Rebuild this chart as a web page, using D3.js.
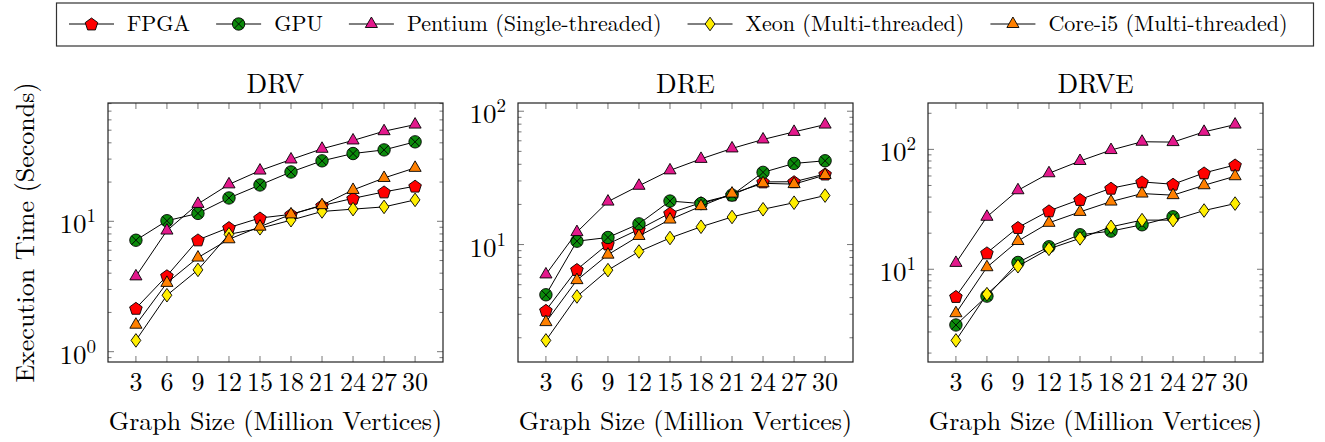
<!DOCTYPE html>
<html>
<head>
<meta charset="utf-8">
<script src="https://cdn.jsdelivr.net/npm/d3@7"></script>
</head>
<body style="margin:0;background:#fff">
<svg id="chart" width="1325" height="442"></svg>
<script>
const sizes = [3, 6, 9, 12, 15, 18, 21, 24, 27, 30];
const seriesNames = ["FPGA", "GPU", "Pentium (Single-threaded)", "Xeon (Multi-threaded)", "Core-i5 (Multi-threaded)"];
const panelTitles = ["DRV", "DRE", "DRVE"];

// DRV
const drvFPGA = [2.15, 3.82, 7.2, 8.95, 10.6, 11.3, 13.2, 15.0, 16.8, 18.6];
const drvGPU = [7.16, 10.1, 11.5, 15.1, 19.0, 23.9, 29.1, 33.1, 35.3, 40.7];
const drvPentium = [3.78, 8.49, 13.6, 19.2, 24.5, 29.8, 36.0, 41.7, 49.1, 55.2];
const drvXeon = [1.22, 2.71, 4.24, 7.95, 8.84, 10.2, 11.9, 12.4, 12.9, 14.6];
const drvCore = [1.61, 3.37, 5.27, 7.28, 9.1, 11.3, 13.3, 17.4, 21.5, 25.7];

// DRE
const dreFPGA = [3.21, 6.5, 10.1, 13.0, 17.2, 20.6, 23.6, 29.5, 29.6, 33.8];
const dreGPU = [4.2, 10.6, 11.3, 14.3, 21.2, 20.3, 23.5, 34.8, 40.6, 42.5];
const drePentium = [5.97, 12.4, 21.0, 27.6, 36.0, 43.9, 52.6, 61.4, 70.0, 79.4];
const dreXeon = [1.91, 4.08, 6.43, 8.87, 11.2, 13.6, 16.1, 18.4, 20.6, 23.3];
const dreCore = [2.62, 5.41, 8.4, 11.6, 15.4, 19.4, 24.1, 28.8, 28.4, 33.2];

// DRVE (GPU stops at 24M)
const drveFPGA = [5.93, 13.7, 22.3, 30.7, 38.2, 47.4, 53.5, 51.2, 63.6, 74.1];
const drveGPU = [3.43, 5.97, 11.4, 15.4, 19.4, 20.8, 23.5, 27.4];
const drvePentium = [11.3, 27.4, 45.6, 63.2, 80, 98.7, 115.8, 115, 140, 161];
const drveXeon = [2.55, 6.2, 10.6, 14.8, 18.1, 22.6, 25.7, 25.7, 30.9, 35.3];
const drveCore = [4.3, 10.4, 17.2, 24.4, 30.1, 36.7, 42.8, 41.5, 50.2, 59.7];

const panelData = [
    [drvFPGA, drvGPU, drvPentium, drvXeon, drvCore],
    [dreFPGA, dreGPU, drePentium, dreXeon, dreCore],
    [drveFPGA, drveGPU, drvePentium, drveXeon, drveCore]
];

const fills = ["#ff0000", "#0b8a0b", "#e3198c", "#ffee00", "#ff8000"];
const FONT = '"Latin Modern Roman", "Liberation Serif", serif';

const svg = d3.select("#chart");

// marker shapes, pgfplots style
function drawMark(g, k, x, y) {
    const m = g.append("g").attr("transform", `translate(${x},${y})`);
    if (k === 0) {
        const r = 6.6;
        const pts = d3.range(5).map(i => {
            const a = -Math.PI / 2 + i * 2 * Math.PI / 5;
            return [r * Math.cos(a), r * Math.sin(a) + 0.6];
        });
        m.append("polygon").attr("points", pts.join(" ")).attr("fill", fills[k]).attr("stroke", "#000").attr("stroke-width", 0.9);
    } else if (k === 1) {
        const r = 6.2;
        m.append("circle").attr("r", r).attr("fill", fills[k]).attr("stroke", "#000").attr("stroke-width", 0.9);
        const d = r * Math.SQRT1_2;
        m.append("path").attr("d", `M${-d},${-d}L${d},${d}M${-d},${d}L${d},${-d}`).attr("stroke", "#000").attr("stroke-width", 0.9);
    } else if (k === 2 || k === 4) {
        const r = 7;
        const pts = [[0, -r], [r * Math.cos(Math.PI / 6), r / 2], [-r * Math.cos(Math.PI / 6), r / 2]];
        m.append("polygon").attr("points", pts.join(" ")).attr("fill", fills[k]).attr("stroke", "#000").attr("stroke-width", 0.9);
    } else {
        const r = 6.8;
        const pts = [[0, -r], [r * 0.72, 0], [0, r], [-r * 0.72, 0]];
        m.append("polygon").attr("points", pts.join(" ")).attr("fill", fills[k]).attr("stroke", "#000").attr("stroke-width", 0.9);
    }
}

const lefts = [108, 518, 928];
const plotW = 335, plotTop = 103, plotH = 259;

panelData.forEach((series, p) => {
    const left = lefts[p];
    const g = svg.append("g");

    const x = d3.scaleLinear()
        .domain([sizes[0] - 0.1 * (sizes[9] - sizes[0]), sizes[9] + 0.1 * (sizes[9] - sizes[0])])
        .range([left, left + plotW]);

    const all = series.flat();
    const lmin = Math.log10(d3.min(all)), lmax = Math.log10(d3.max(all));
    const pad = 0.1 * (lmax - lmin);
    const y = d3.scaleLog()
        .domain([Math.pow(10, lmin - pad), Math.pow(10, lmax + pad)])
        .range([plotTop + plotH, plotTop]);

    // ticks (inward, on both sides)
    const tk = g.append("g").attr("stroke", "#555").attr("stroke-width", 0.8);
    sizes.forEach(s => {
        tk.append("line").attr("x1", x(s)).attr("x2", x(s)).attr("y1", plotTop + plotH).attr("y2", plotTop + plotH - 6);
        tk.append("line").attr("x1", x(s)).attr("x2", x(s)).attr("y1", plotTop).attr("y2", plotTop + 6);
    });
    const [d0, d1] = y.domain();
    const majors = [], minors = [];
    for (let e = Math.floor(Math.log10(d0)); e <= Math.ceil(Math.log10(d1)); e++) {
        for (let k = 1; k <= 9; k++) {
            const v = k * Math.pow(10, e);
            if (v < d0 || v > d1) continue;
            (k === 1 ? majors : minors).push({ v, e });
        }
    }
    majors.forEach(t => {
        tk.append("line").attr("x1", left).attr("x2", left + 6).attr("y1", y(t.v)).attr("y2", y(t.v));
        tk.append("line").attr("x1", left + plotW).attr("x2", left + plotW - 6).attr("y1", y(t.v)).attr("y2", y(t.v));
        const lab = g.append("text").attr("x", left - 12).attr("y", y(t.v) + 12)
            .attr("text-anchor", "end").attr("font-size", 27).attr("font-family", FONT);
        lab.append("tspan").text("10");
        lab.append("tspan").attr("dy", -11).attr("font-size", 19).text(t.e);
    });
    minors.forEach(t => {
        tk.append("line").attr("x1", left).attr("x2", left + 3.5).attr("y1", y(t.v)).attr("y2", y(t.v));
        tk.append("line").attr("x1", left + plotW).attr("x2", left + plotW - 3.5).attr("y1", y(t.v)).attr("y2", y(t.v));
    });

    // frame
    g.append("rect").attr("x", left).attr("y", plotTop).attr("width", plotW).attr("height", plotH)
        .attr("fill", "none").attr("stroke", "#222").attr("stroke-width", 1.2);

    // x tick labels
    g.append("g").selectAll("text").data(sizes).join("text")
        .attr("x", d => x(d)).attr("y", 391)
        .attr("text-anchor", "middle").attr("font-size", 26).attr("font-family", FONT)
        .text(d => d);

    // series
    const line = d3.line().x((d, i) => x(sizes[i])).y(d => y(d));
    series.forEach((vals, k) => {
        g.append("path").datum(vals).attr("d", line)
            .attr("fill", "none").attr("stroke", "#000").attr("stroke-width", 1);
        vals.forEach((v, i) => drawMark(g, k, x(sizes[i]), y(v)));
    });

    // titles and axis labels
    g.append("text").attr("x", left + plotW / 2).attr("y", 93)
        .attr("text-anchor", "middle").attr("font-size", 27).attr("font-family", FONT)
        .text(panelTitles[p]);
    g.append("text").attr("x", left + plotW / 2).attr("y", 430)
        .attr("text-anchor", "middle").attr("font-size", 26).attr("font-family", FONT)
        .text("Graph Size (Million Vertices)");
});

svg.append("text")
    .attr("transform", `translate(34,${plotTop + plotH / 2}) rotate(-90)`)
    .attr("text-anchor", "middle").attr("font-size", 26).attr("font-family", FONT)
    .text("Execution Time (Seconds)");

// legend
const leg = svg.append("g");
leg.append("rect").attr("x", 56.5).attr("y", 3).attr("width", 1257).attr("height", 43)
    .attr("fill", "#fff").attr("stroke", "#333").attr("stroke-width", 1.2);
let lx = 69;
seriesNames.forEach((name, k) => {
    leg.append("line").attr("x1", lx).attr("x2", lx + 45).attr("y1", 24).attr("y2", 24)
        .attr("stroke", "#000").attr("stroke-width", 1);
    drawMark(leg, k, lx + 22.5, 24);
    const t = leg.append("text").attr("x", lx + 58).attr("y", 31)
        .attr("font-size", 22).attr("font-family", FONT).text(name);
    lx = lx + 58 + t.node().getComputedTextLength() + 26;
});
</script>
</body>
</html>
